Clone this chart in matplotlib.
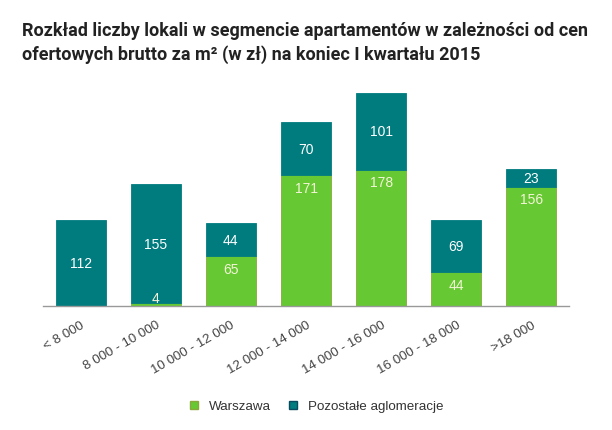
import matplotlib
matplotlib.use("Agg")
import matplotlib.pyplot as plt
from matplotlib.lines import Line2D

categories = ["< 8 000", "8 000 - 10 000", "10 000 - 12 000", "12 000 - 14 000",
              "14 000 - 16 000", "16 000 - 18 000", ">18 000"]
warszawa = [0, 4, 65, 171, 178, 44, 156]
pozostale = [112, 155, 44, 70, 101, 69, 23]
series_names = ["Warszawa", "Pozostałe aglomeracje"]
title = ("Rozkład liczby lokali w segmencie apartamentów w zależności od cen\n"
         "ofertowych brutto za m² (w zł) na koniec I kwartału 2015")

GREEN = "#66c832"
GREEN_EDGE = "#8aa83a"
TEAL = "#007b7e"

plt.rcParams['font.family'] = ['Liberation Sans', 'DejaVu Sans']

fig = plt.figure(figsize=(6.12, 4.31), dpi=100)
ax = fig.add_axes([43/612, (431-307)/431, (569-43)/612, (307-80)/431])

x = list(range(len(categories)))
w = 0.665
ax.bar(x, warszawa, width=w, color=GREEN, edgecolor=GREEN_EDGE, linewidth=0.6, zorder=2)
ax.bar(x, pozostale, width=w, bottom=warszawa, color=TEAL, edgecolor=TEAL, linewidth=0.6, zorder=2)

for i in x:
    g = warszawa[i]
    t = pozostale[i]
    if g > 0:
        ax.text(i, max(g - 16, 10), str(g), ha='center', va='center',
                color='#f4f4d8', fontsize=10, zorder=3)
    if t > 0:
        ax.text(i, g + t / 2, str(t), ha='center', va='center',
                color='white', fontsize=10, zorder=3)

ax.set_xlim(-0.5, len(categories) - 0.5)
ax.set_ylim(0, 297)
for s in ['top', 'right', 'left']:
    ax.spines[s].set_visible(False)
ax.spines['bottom'].set_color('#999999')
ax.spines['bottom'].set_linewidth(1.0)
ax.set_yticks([])
ax.set_xticks(x)
ax.set_xticklabels(categories, rotation=30, ha='right', rotation_mode='anchor',
                   fontsize=9.6, color='#444444')
ax.tick_params(axis='x', length=0, pad=9)

fig.text(22/612, 1 - 22/431, title, ha='left', va='top', fontsize=13,
         fontweight='bold', color='#222222', linespacing=1.35,
         family=['Roboto', 'DejaVu Sans'])

handles = [Line2D([], [], marker='s', linestyle='none', markersize=6,
                  markerfacecolor=GREEN, markeredgecolor=GREEN_EDGE),
           Line2D([], [], marker='s', linestyle='none', markersize=6,
                  markerfacecolor=TEAL, markeredgecolor='#0a4a60')]
fig.legend(handles, series_names, loc='center', bbox_to_anchor=(316/612, 1 - 407/431),
           ncol=2, frameon=False, fontsize=9.6, handletextpad=0.7, columnspacing=1.3,
           labelcolor='#333333', handlelength=0.8)

fig.savefig("out.png", dpi=100)
